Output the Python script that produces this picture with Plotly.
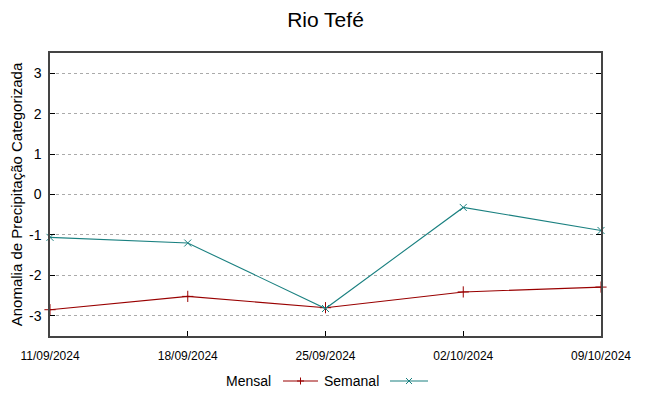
import plotly.graph_objects as go

dates = ["2024-09-11", "2024-09-18", "2024-09-25", "2024-10-02", "2024-10-09"]
tick_labels = ["11/09/2024", "18/09/2024", "25/09/2024", "02/10/2024", "09/10/2024"]
y_ticks = [-3, -2, -1, 0, 1, 2, 3]
y_tick_labels = ["-3", "-2", "-1", "0", "1", "2", "3"]
mensal = [-2.85, -2.52, -2.80, -2.41, -2.29]
semanal = [-1.06, -1.20, -2.82, -0.32, -0.89]

RED = "#990000"
TEAL = "#1a8080"

# page has an 8px body margin: work in figure coordinates = page coordinates - 8
OFF = 8
W, H = 649 - 2 * OFF, 396 - 2 * OFF
L, R, T, B = 50 - OFF, 601 - OFF, 53 - OFF, 336 - OFF

fig = go.Figure()
fig.add_trace(go.Scatter(x=dates, y=mensal, mode="lines+markers", name="Mensal",
                         line=dict(color=RED, width=1.1),
                         marker=dict(symbol="cross-thin", size=8, line=dict(color=RED, width=1), color=RED),
                         cliponaxis=False))
fig.add_trace(go.Scatter(x=dates, y=semanal, mode="lines+markers", name="Semanal",
                         line=dict(color=TEAL, width=1.1),
                         marker=dict(symbol="x-thin", size=7, line=dict(color=TEAL, width=1), color=TEAL),
                         cliponaxis=False))

fig.update_layout(
    width=W, height=H,
    margin=dict(l=L, r=W - R, t=T, b=H - B, autoexpand=False),
    paper_bgcolor="white", plot_bgcolor="white",
    showlegend=False,
    font=dict(family="Liberation Sans, Arial", color="black"),
    title=dict(text="Rio Tefé", x=0.5, xanchor="center", xref="paper", y=1 - (20 - OFF) / H, yanchor="middle",
               yref="container", font=dict(size=21, family="Liberation Sans, Arial")),
)
fig.update_xaxes(type="date", range=[dates[0], dates[-1]], tickvals=dates, ticktext=tick_labels,
                 automargin=False, ticklabelstandoff=8,
                 showgrid=False, zeroline=False, showline=True, linecolor="#444", linewidth=1.5,
                 mirror=True, ticks="inside", ticklen=5, tickcolor="black",
                 tickfont=dict(size=12, family="Liberation Sans Narrow, Arial Narrow, Liberation Sans"))
fig.update_yaxes(range=[-3.5, 3.5], tickvals=y_ticks, ticktext=y_tick_labels, automargin=False,
                 ticklabelstandoff=4,
                 showgrid=True, gridcolor="#aaaaaa", griddash="dot", gridwidth=1,
                 zeroline=False, showline=True, linecolor="#444", linewidth=1.5,
                 mirror="allticks", ticks="inside", ticklen=5, tickcolor="black",
                 tickfont=dict(size=14), title=dict(text="Anomalia de Precipitação Categorizada",
                                                    font=dict(size=15), standoff=6))

def fx(x):
    return (x - OFF - L) / (R - L)
def fy(y):
    return (B - (y - OFF)) / (B - T)

ly = 381
legend = [("Mensal", 273, 283, 318, RED, "+"), ("Semanal", 381, 390, 428, TEAL, "x")]
for name, tx, x0, x1, col, sym in legend:
    fig.add_annotation(x=fx(tx), y=fy(ly), xref="paper", yref="paper", text=name, showarrow=False,
                       xanchor="right", yanchor="middle", font=dict(size=14))
    fig.add_shape(type="line", xref="paper", yref="paper", x0=fx(x0), x1=fx(x1), y0=fy(ly), y1=fy(ly),
                  line=dict(color=col, width=1.1))
    cx = (x0 + x1) / 2
    if sym == "+":
        fig.add_shape(type="line", xref="paper", yref="paper", x0=fx(cx), x1=fx(cx), y0=fy(ly - 3.5), y1=fy(ly + 3.5),
                      line=dict(color=col, width=1))
        fig.add_shape(type="line", xref="paper", yref="paper", x0=fx(cx - 3.5), x1=fx(cx + 3.5), y0=fy(ly), y1=fy(ly),
                      line=dict(color=col, width=1))
    else:
        fig.add_shape(type="line", xref="paper", yref="paper", x0=fx(cx - 3), x1=fx(cx + 3), y0=fy(ly - 3), y1=fy(ly + 3),
                      line=dict(color=col, width=1))
        fig.add_shape(type="line", xref="paper", yref="paper", x0=fx(cx - 3), x1=fx(cx + 3), y0=fy(ly + 3), y1=fy(ly - 3),
                      line=dict(color=col, width=1))

fig.write_html("out.html")
